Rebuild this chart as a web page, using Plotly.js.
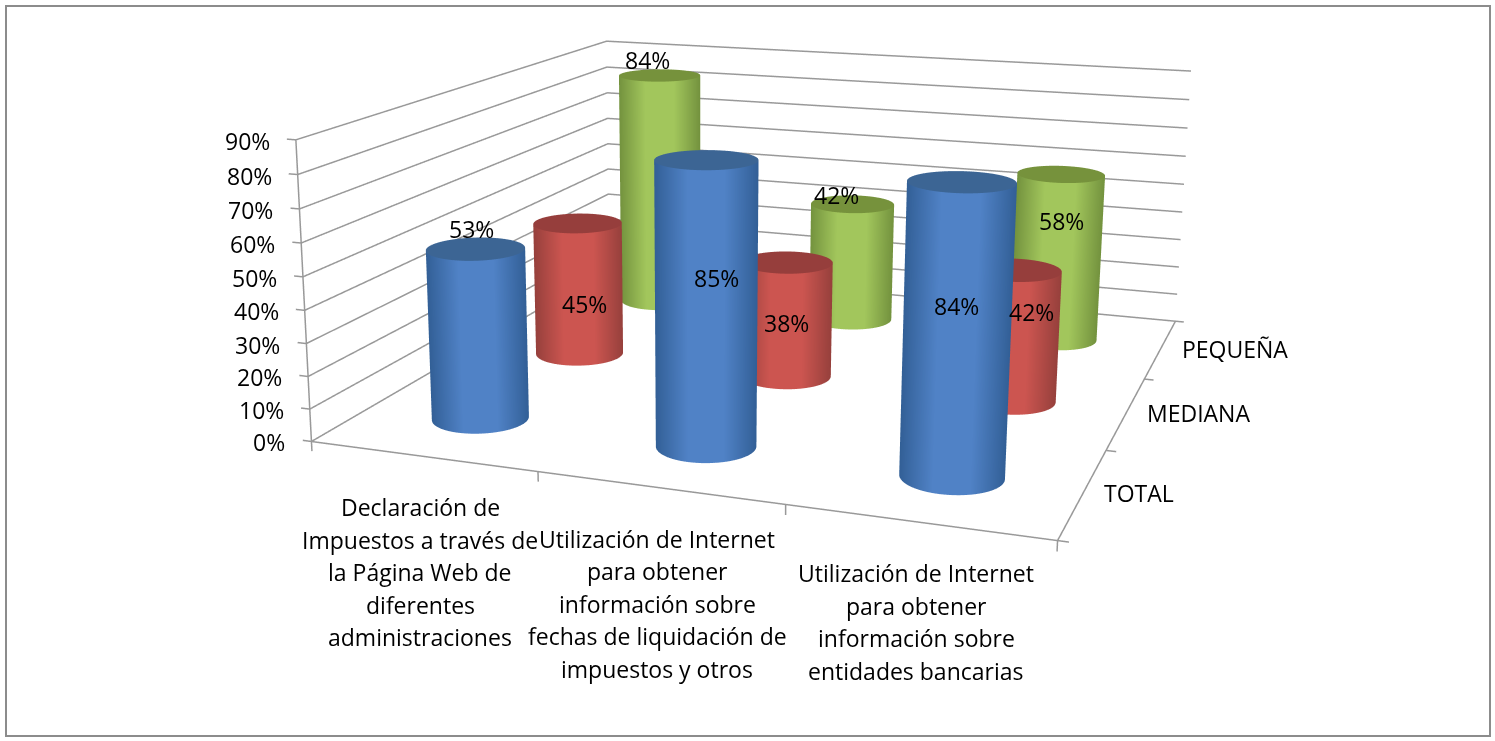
<!DOCTYPE html>
<html>
<head>
<meta charset="utf-8">
<script src="https://cdn.plot.ly/plotly-3.0.1.min.js"></script>
<style>
html, body { margin: 0; padding: 0; background: #fff; overflow: hidden; width: 1495px; height: 741px; }
/* the 3D view has a fixed field of view, so the plot is bigger than the window to get the flatter perspective */
#chart { position: absolute; left: -95px; top: -543px; width: 1590px; height: 1651px; }
#frame { position: absolute; left: 5px; top: 5px; width: 1482px; height: 728px; border: 2px solid #8c8c8c; pointer-events: none; }
</style>
</head>
<body>
<div id="chart"></div>
<div id="frame"></div>
<script>
const categories = [
    ['Declaración de', 'Impuestos a través de', 'la Página Web de', 'diferentes', 'administraciones'],
    ['Utilización de Internet', 'para obtener', 'información sobre', 'fechas de liquidación de', 'impuestos y otros'],
    ['Utilización de Internet', 'para obtener', 'información sobre', 'entidades bancarias']
];
const seriesNames = ['TOTAL', 'MEDIANA', 'PEQUEÑA'];
const totalValues = [53, 85, 84];
const medianaValues = [45, 38, 42];
const pequenaValues = [84, 42, 58];
const zTicks = [0, 10, 20, 30, 40, 50, 60, 70, 80, 90];

const seriesValues = [totalValues, medianaValues, pequenaValues];

// Data labels were moved by hand in the original, offsets in px from the top of each cylinder
const labelOffsets = [
    [[-4, 20], [10, -118], [-5, -124]],
    [[7, -81], [0, -61], [18, -42]],
    [[-12, 15], [-16, 9], [0, -47]]
];

// Colors: [lit middle, dark edge] of the side, then the top
const seriesColors = [['#5082c6', '#325f96'], ['#cc5550', '#96403c'], ['#a2c65c', '#73923e']];
const topColors = ['#3c6594', '#963e3c', '#76923c'];

const eye = { x: 1.749, y: -5.3739, z: 1.3393 };
const boxX = 2, boxY = 2.0251, boxZ = 0.8178;
const radius = 0.2;
// Axes run a bit past the data so the tick marks are not clipped
const xPad = 0.1, zPad = 4;

// Cylinder side and top as mesh3d, the side shaded by how far it turns from the viewer
function cylinder(cx, cy, h, colors, top) {
    const n = 72, x = [], y = [], z = [], v = [], i = [], j = [], k = [];
    const view = Math.atan2(eye.y - (cy - 1.5) / 3 * boxY, eye.x - (cx - 1.5) / 3 * boxX);
    const capX = [cx], capY = [cy], capZ = [h], ci = [], cj = [], ck = [];
    for (let a = 0; a < n; a++) {
        const t = a / n * 2 * Math.PI;
        const px = cx + radius * Math.cos(t), py = cy + radius * Math.sin(t);
        const shade = Math.abs(Math.sin(t - view));
        const b = (a + 1) % n;
        x.push(px, px);
        y.push(py, py);
        z.push(0, h);
        v.push(shade, shade);
        i.push(2 * a, 2 * a + 1);
        j.push(2 * b, 2 * b);
        k.push(2 * a + 1, 2 * b + 1);
        capX.push(px);
        capY.push(py);
        capZ.push(h);
        ci.push(0);
        cj.push(a + 1);
        ck.push(b + 1);
    }
    return [{
        type: 'mesh3d', x, y, z, i, j, k, intensity: v, cmin: 0, cmax: 1, showscale: false,
        colorscale: [[0, colors[0]], [0.35, colors[0]], [1, colors[1]]],
        lighting: { ambient: 1, diffuse: 0, specular: 0 }, hoverinfo: 'skip'
    }, {
        type: 'mesh3d', x: capX, y: capY, z: capZ, i: ci, j: cj, k: ck, color: top,
        lighting: { ambient: 1, diffuse: 0, specular: 0 }, hoverinfo: 'skip'
    }];
}

function line3d(x, y, z) {
    return { type: 'scatter3d', mode: 'lines', x, y, z, line: { color: '#999999', width: 3 }, hoverinfo: 'skip' };
}

const traces = [];

// Grid on the two back walls, axis lines and tick marks
zTicks.forEach(t => {
    traces.push(line3d([0, 0, 3], [0, 3, 3], [t, t, t]));
    traces.push(line3d([-0.04, 0], [0, 0], [t, t]));
});
traces.push(line3d([0, 0], [0, 0], [0, 90]));
traces.push(line3d([0, 3, 3], [0, 0, 3], [0, 0, 0]));
[0, 1, 2, 3].forEach(t => {
    traces.push(line3d([t, t], [0, 0], [0, -3]));
    traces.push(line3d([3, 3.04], [t, t], [0, 0]));
});

seriesValues.forEach((vals, s) => {
    vals.forEach((val, c) => traces.push(...cylinder(c + 0.5, s + 0.5, val, seriesColors[s], topColors[s])));
});

const textFont = { family: 'Open Sans, sans-serif', size: 23, color: '#000' };

function note(x, y, z, text, extra) {
    return Object.assign({ x, y, z, text, showarrow: false, font: textFont }, extra);
}

const annotations = [];
zTicks.forEach(t => annotations.push(note(0, 0, t, t + '%', { xanchor: 'right', xshift: -24, yshift: -1 })));
seriesNames.forEach((name, s) => annotations.push(note(3, s + 0.5, 0, name, { xanchor: 'left', xshift: 19 })));
categories.forEach((lines, c) => lines.forEach((line, l) => {
    annotations.push(note(c + 0.5, 0, 0, line, { xshift: -2, yshift: -(51 + 32.5 * l) }));
}));
seriesValues.forEach((vals, s) => vals.forEach((val, c) => {
    annotations.push(note(c + 0.5, s + 0.5, val, val + '%', { xshift: labelOffsets[s][c][0], yshift: labelOffsets[s][c][1] }));
}));

const layout = {
    paper_bgcolor: '#fff',
    showlegend: false,
    margin: { l: 0, r: 0, t: 0, b: 0 },
    scene: {
        domain: { x: [0, 1], y: [0, 1] },
        aspectmode: 'manual',
        aspectratio: {
            x: boxX * (3 + 2 * xPad) / 3,
            y: boxY * (3 + 2 * xPad) / 3,
            z: boxZ * (90 + 2 * zPad) / 90
        },
        camera: { eye, center: { x: -0.2711, y: 0, z: -0.1491 }, up: { x: 0.0016, y: 0, z: 1 } },
        annotations,
        xaxis: { visible: false, range: [-xPad, 3 + xPad] },
        yaxis: { visible: false, range: [-xPad, 3 + xPad] },
        zaxis: { visible: false, range: [-zPad, 90 + zPad] }
    }
};

Plotly.newPlot('chart', traces, layout, { displayModeBar: false });
</script>
</body>
</html>
